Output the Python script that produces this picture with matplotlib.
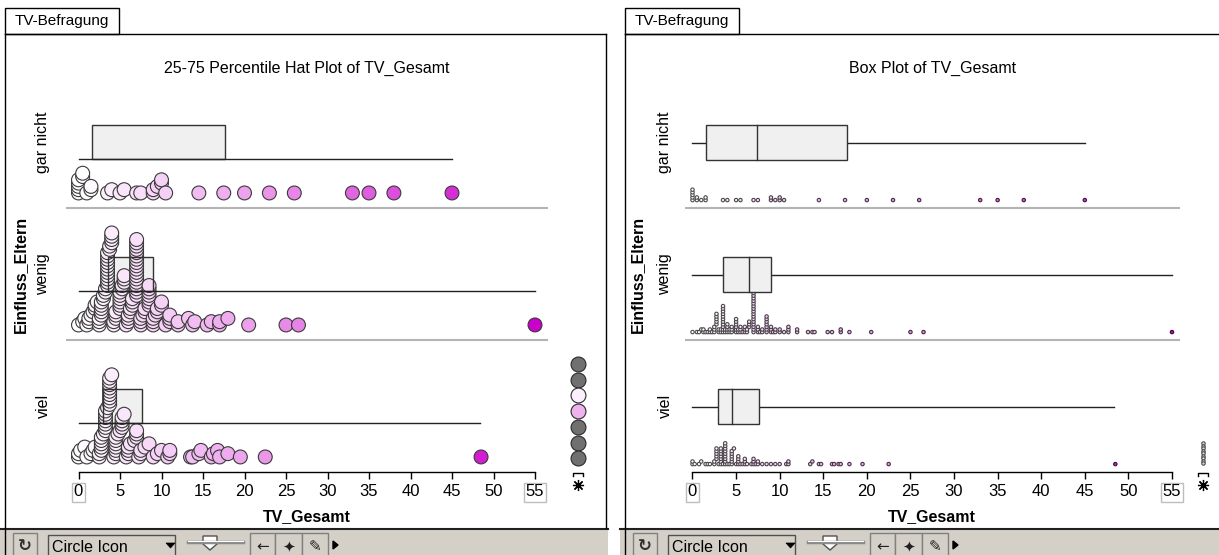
import numpy as np
import matplotlib
matplotlib.use("Agg")
import matplotlib.pyplot as plt
from matplotlib import font_manager
from matplotlib.colors import LinearSegmentedColormap, Normalize
from matplotlib.patches import Rectangle, Polygon

W, H = 1219, 555

# --- data -----------------------------------------------------------------
groups = ["gar nicht", "wenig", "viel"]

tv_gar_nicht = [0, 0, 0, 0, 0, 0.5, 0.5, 1, 1.5, 1.5, 3.5, 4, 5, 5.5, 7, 7.5,
                9, 9, 9.5, 10, 10, 10.5, 14.5, 17.5, 20, 23, 26, 33, 35, 38, 45]

tv_wenig = [0, 0.5, 0.75, 1, 1.25, 1.25, 1.5, 1.75, 2, 2, 2.25,
            2.5, 2.5, 2.5, 2.75, 2.75, 2.75, 2.75, 2.75, 3, 3, 3.25, 3.25,
            3.5, 3.5, 3.5, 3.5, 3.5, 3.5, 3.5, 3.5, 3.5, 3.5, 3.5, 3.75, 3.75,
            4, 4, 4, 4, 4.25, 4.25, 4.5, 4.5, 4.5,
            5, 5, 5, 5, 5, 5, 5.25, 5.25, 5.5, 5.5, 5.5, 5.75,
            6, 6, 6, 6.25, 6.25, 6.5, 6.5, 6.5,
            7, 7, 7, 7, 7, 7, 7, 7, 7, 7, 7, 7, 7, 7, 7, 7, 7, 7,
            7.5, 7.5, 7.5, 7.75, 8, 8, 8.5, 8.5, 8.5, 8.5, 8.5, 8.5, 8.5,
            9, 9, 9, 9.25, 9.5, 9.5, 10, 10, 10.5, 11, 11, 11, 12, 12,
            13.25, 13.75, 14, 15.5, 16, 17, 17, 18, 20.5, 25, 26.5, 55]

tv_viel = [0, 0, 0.25, 0.75, 1, 1.5, 1.75, 2, 2.5, 2.5,
           2.75, 2.75, 2.75, 2.75, 2.75, 3, 3.25, 3.25, 3.25, 3.25, 3.25, 3.25, 3.25,
           3.5, 3.75, 3.75, 3.75, 3.75, 3.75, 3.75, 3.75, 3.75, 3.75,
           4, 4.25, 4.5, 4.5, 4.5, 4.5, 4.5, 4.5, 4.75, 5, 5.25, 5.25, 5.25, 5.25,
           5.5, 5.75, 6, 6, 6, 6.25, 6.75, 7, 7, 7, 7.25, 7.5, 7.5, 8, 8.5, 9, 9.5,
           10, 10.75, 11, 11, 13.5, 13.75, 14.5, 14.75, 16, 16.25, 16.75, 17, 18,
           19.5, 22.5, 48.5]

# quartiles and whisker ends as Fathom drew them
q1_vals = [1.6, 3.5, 2.9]
median_vals = [7.4, 6.5, 4.5]
q3_vals = [17.7, 9.0, 7.6]
min_vals = [0.0, 0.0, 0.0]
max_vals = [45.0, 55.0, 48.4]

x_ticks = list(range(0, 56, 5))
legend_colors = ["#707070", "#707070", "#fdeefd", "#eeb2ee", "#707070", "#707070", "#707070"]

# --- style -----------------------------------------------------------------
plt.rcParams["font.family"] = ["Liberation Sans", "DejaVu Sans"]
_installed = {f.name for f in font_manager.fontManager.ttflist}
if "Liberation Sans Narrow" in _installed:
    TICK_FONT, TICK_SIZE = "Liberation Sans Narrow", 12.5
else:
    TICK_FONT, TICK_SIZE = "Liberation Sans", 12
TEXT_SIZE = 11.5
TOOLBAR = "#d4d0c8"

cmap = LinearSegmentedColormap.from_list("tv", ["#ffffff", "#cc00cc"])
norm = Normalize(0, 55)

fig = plt.figure(figsize=(W / 100, H / 100), dpi=100)

# pixel-space overlay for the window chrome
ui = fig.add_axes([0, 0, 1, 1], zorder=0)
ui.set_xlim(0, W)
ui.set_ylim(H, 0)
ui.axis("off")

AX_TOP, AX_BOTTOM = 76, 472


def stack_levels(values, width):
    """Fathom-like stacking: values falling in the same icon-wide bin share a
    column, but each keeps its own x inside the column."""
    vals = np.sort(np.asarray(values, dtype=float))
    bins = np.floor((vals + width / 2) / width)
    lv = np.zeros_like(vals)
    for b in np.unique(bins):
        idx = np.where(bins == b)[0]
        lv[idx] = np.arange(len(idx))
    return vals, lv


def make_axes(left_px, right_px, zero_px, k, label_px):
    ax = fig.add_axes([left_px / W, 1 - AX_BOTTOM / H, (right_px - left_px) / W,
                       (AX_BOTTOM - AX_TOP) / H], zorder=1)
    ax.set_facecolor("none")
    ax.set_xlim((left_px - zero_px) / k, (right_px - zero_px) / k)
    ax.set_ylim(3, 0)
    for side in ("top", "left", "right"):
        ax.spines[side].set_visible(False)
    ax.spines["bottom"].set_bounds(0, 55)
    ax.spines["bottom"].set_linewidth(1)
    ax.set_xticks(x_ticks, labels=[str(t) for t in x_ticks],
                  fontfamily=TICK_FONT, fontsize=TICK_SIZE)
    ax.tick_params(axis="x", direction="out", length=5, width=1, pad=4)
    ax.set_yticks([])
    labels = ax.get_xticklabels()
    for lab in (labels[0], labels[-1]):
        lab.set_bbox(dict(boxstyle="square,pad=0.12", fc="white", ec="#bdbdbd", lw=1))
    for y in (1, 2):
        ax.axhline(y, color="#b4b4b4", lw=1.5, zorder=0.5)
    # category labels, axis label
    width_px = right_px - left_px
    gx = (label_px[0] - left_px) / width_px
    for i, g in enumerate(groups):
        ax.text(gx, i + 0.5, g, transform=ax.get_yaxis_transform(), rotation=90,
                ha="center", va="center", fontsize=TEXT_SIZE)
    ax.set_ylabel("Einfluss_Eltern", fontsize=TEXT_SIZE, fontweight="bold")
    ax.yaxis.label.set_va("center")
    ax.yaxis.set_label_coords((label_px[1] - left_px) / width_px, 0.5)
    ax.set_xlabel("TV_Gesamt", fontsize=TEXT_SIZE, fontweight="bold")
    xmid = (27.5 - ax.get_xlim()[0]) / (ax.get_xlim()[1] - ax.get_xlim()[0])
    ax.xaxis.set_label_coords(xmid, -(517 - AX_BOTTOM) / (AX_BOTTOM - AX_TOP))
    ax.xaxis.label.set_va("center")
    return ax


def draw_chrome(dx, right_edge, bar_left, bar_right):
    ui.plot([5 + dx, right_edge], [34, 34], color="black", lw=1)
    ui.add_patch(Rectangle((5 + dx, 8), 114, 26, fc="white", ec="black", lw=1))
    ui.text(15 + dx, 21.5, "TV-Befragung", fontsize=11, va="center", ha="left")
    # toolbar
    ui.add_patch(Rectangle((bar_left, 528), bar_right - bar_left, 30, fc=TOOLBAR, ec="none"))
    ui.plot([bar_left, bar_right], [528.5, 528.5], color="#202020", lw=1.5)
    ui.plot([5 + dx, 5 + dx], [34, 555], color="black", lw=1)
    ui.add_patch(Rectangle((13 + dx, 533), 24, 26, fc=TOOLBAR, ec="#808080", lw=1))
    ui.text(25 + dx, 546, "\u21bb", fontsize=12, ha="center", va="center",
            family=["DejaVu Sans"], fontweight="bold", color="#303030")
    ui.add_patch(Rectangle((48 + dx, 535), 127, 24, fc=TOOLBAR, ec="#505050", lw=1))
    ui.text(52 + dx, 547, "Circle Icon", fontsize=TEXT_SIZE, ha="left", va="center")
    ui.add_patch(Polygon([(166 + dx, 543), (175 + dx, 543), (170.5 + dx, 548)],
                         closed=True, fc="black", ec="black", lw=0.5))
    ui.plot([188 + dx, 243 + dx], [542, 542], color="#8a8a8a", lw=2.5)
    ui.plot([188 + dx, 243 + dx], [541, 541], color="white", lw=0.8)
    ui.add_patch(Polygon([(203 + dx, 536), (217 + dx, 536), (217 + dx, 544),
                          (210 + dx, 550), (203 + dx, 544)],
                         closed=True, fc="white", ec="#505050", lw=1))
    for bx, bw, icon in ((250, 25, "\u2190"), (275, 27, "\u2726"), (302, 26, "\u270e")):
        ui.add_patch(Rectangle((bx + dx, 533), bw, 26, fc=TOOLBAR, ec="#808080", lw=1))
        ui.text(bx + dx + bw / 2, 547, icon, fontsize=11, ha="center", va="center",
                family=["DejaVu Sans"], color="#202020")
    ui.add_patch(Polygon([(333 + dx, 541), (333 + dx, 549), (338 + dx, 545)],
                         closed=True, fc="black", ec="black"))


def draw_legend_marks(x, bracket_y=473, star_y=485):
    ui.plot([x - 5, x - 5, x + 5, x + 5], [476, bracket_y, bracket_y, 476], color="black", lw=1)
    ui.plot([x], [star_y], marker=(8, 2, 0), markersize=8, mew=0.9, color="black")


data = [tv_gar_nicht, tv_wenig, tv_viel]

# --- left panel: 25-75 percentile hat plot ----------------------------------
draw_chrome(0, 606, 0, 608)
ui.plot([606, 606], [34, 528], color="black", lw=1)

axL = make_axes(66, 548, 78.5, 8.3, (43, 20.5))
axL.text(27.5, 1 + 8 / 396, "25-75 Percentile Hat Plot of TV_Gesamt",
         transform=axL.get_xaxis_transform(), ha="center", va="center", fontsize=TEXT_SIZE)

stacks = [stack_levels(d, 1.6) for d in data]
max_lvl = max(lv.max() for _, lv in stacks)
step_l = min(14.0, 92.0 / max_lvl) / 132.0
for i, (xs, lv) in enumerate(stacks):
    axL.scatter(xs, i + 0.886 - lv * step_l, s=100, c=xs, cmap=cmap, norm=norm,
                edgecolors="#3a3a3a", linewidths=0.8, zorder=2)
    axL.add_patch(Rectangle((q1_vals[i], i + 0.371), q3_vals[i] - q1_vals[i], 0.258,
                            fc="#f0f0f0", ec="none", zorder=1))
    axL.add_patch(Rectangle((q1_vals[i], i + 0.371), q3_vals[i] - q1_vals[i], 0.258,
                            fc="none", ec="#333333", lw=1, zorder=3))
    axL.plot([min_vals[i], max_vals[i]], [i + 0.629] * 2, color="#222222", lw=1, zorder=3)

for j, col in enumerate(legend_colors):
    ui.scatter([578], [364 + j * 15.7], s=115, color=col, edgecolors="#2a2a2a", linewidths=0.8)
draw_legend_marks(578)

# --- right panel: box plot ---------------------------------------------------
draw_chrome(620, W, 620, W)

axR = make_axes(685, 1180, 692.5, 8.718, (665, 637))
axR.text(27.5, 1 + 8 / 396, "Box Plot of TV_Gesamt",
         transform=axR.get_xaxis_transform(), ha="center", va="center", fontsize=TEXT_SIZE)

step_r = 2.6 / 132.0
for i, d in enumerate(data):
    xs, lv = stack_levels(d, 0.29)
    face = cmap(norm(xs))
    edge = face.copy()
    edge[:, :3] *= 0.3
    axR.scatter(xs, i + 0.94 - lv * step_r, s=6, c=face, edgecolors=edge,
                linewidths=0.8, zorder=2)
    yc = i + 0.504
    axR.plot([min_vals[i], q1_vals[i]], [yc, yc], color="#222222", lw=1, zorder=3)
    axR.plot([q3_vals[i], max_vals[i]], [yc, yc], color="#222222", lw=1, zorder=3)
    axR.add_patch(Rectangle((q1_vals[i], i + 0.371), q3_vals[i] - q1_vals[i], 0.265,
                            fc="#f0f0f0", ec="#333333", lw=1, zorder=3))
    axR.plot([median_vals[i]] * 2, [i + 0.371, i + 0.636], color="#333333", lw=1, zorder=4)

ui.scatter([1203] * 9, [443 + j * 2.5 for j in range(9)], s=6, color="#dddddd",
           edgecolors="#4a4a4a", linewidths=0.8)
draw_legend_marks(1203)

fig.savefig("out.png", dpi=100)
